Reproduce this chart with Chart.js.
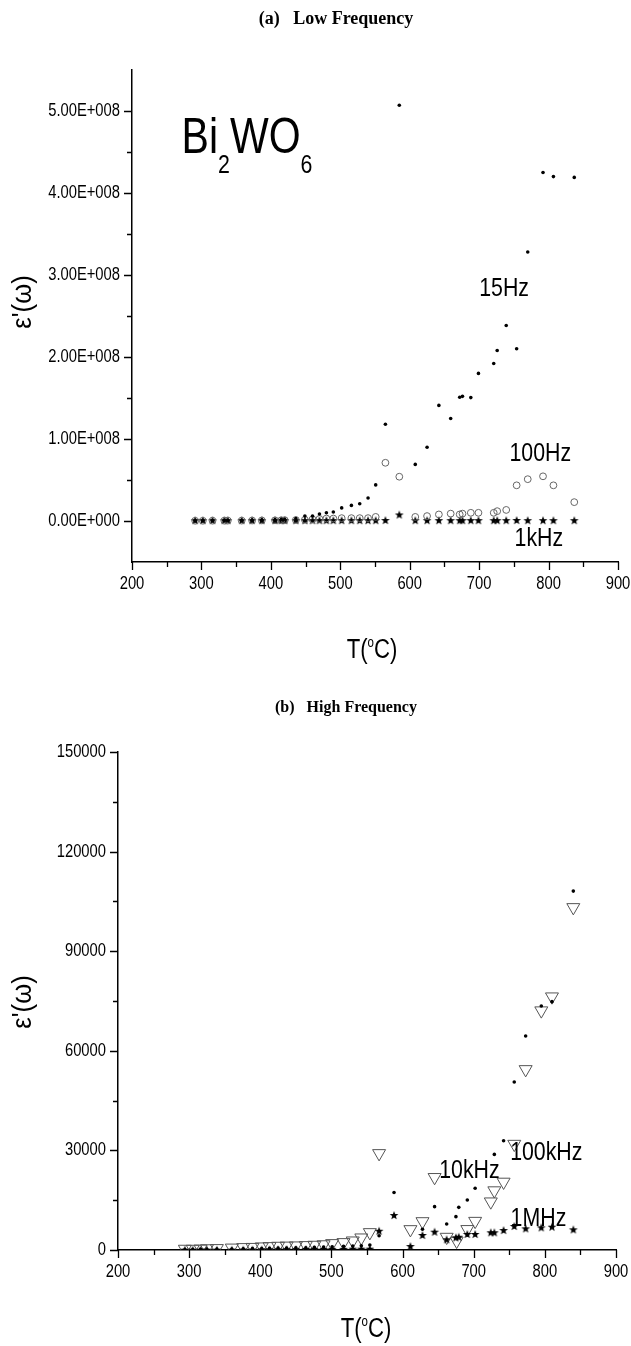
<!DOCTYPE html>
<html>
<head>
<meta charset="utf-8">
<script src="https://cdn.jsdelivr.net/npm/chart.js@4.4.0/dist/chart.umd.min.js"></script>
<style>
  body { margin: 0; background: #fff; }
  canvas { position: absolute; left: 0; }
  #low-chart { top: 0; }
  #high-chart { top: 690px; }
</style>
</head>
<body>
<canvas id="low-chart" width="631" height="690"></canvas>
<canvas id="high-chart" width="631" height="656"></canvas>
<script>
// (a) low frequency: temperature (°C) and real permittivity
const lowTemps = [291, 302, 316, 333, 338, 358, 373, 387, 406, 415, 420, 436, 449, 460, 470, 480, 490, 502, 516, 528,
                  540, 551, 565, 585, 608, 625, 642, 659, 672, 676, 688, 699, 721, 726, 739, 754, 770, 792, 807, 837];
const eps15Hz = [0.5e6, 0.6e6, 0.7e6, 0.8e6, 0.8e6, 1.0e6, 1.2e6, 1.4e6, 1.8e6, 2.0e6, 2.2e6, 3.0e6, 6.0e6, 6.0e6, 8.5e6, 1.0e7, 1.1e7, 1.6e7, 1.9e7, 2.1e7,
                 2.8e7, 4.4e7, 1.18e8, 5.07e8, 6.9e7, 9.0e7, 1.41e8, 1.25e8, 1.51e8, 1.52e8, 1.505e8, 1.80e8, 1.92e8, 2.08e8, 2.385e8, 2.10e8, 3.28e8, 4.25e8, 4.20e8, 4.19e8];
const eps100Hz = [0.3e6, 0.3e6, 0.4e6, 0.4e6, 0.5e6, 0.5e6, 0.6e6, 0.7e6, 0.8e6, 0.9e6, 1.0e6, 1.2e6, 1.5e6, 2.0e6, 2.5e6, 3.0e6, 3.0e6, 3.5e6, 3.5e6, 3.5e6,
                  3.5e6, 5.0e6, 7.1e7, 5.4e7, 5.0e6, 6.0e6, 8.0e6, 9.0e6, 8.0e6, 9.0e6, 1.0e7, 1.0e7, 1.0e7, 1.2e7, 1.35e7, 4.35e7, 5.1e7, 5.45e7, 4.35e7, 2.3e7];
const eps1kHz = [1.0e6, 1.0e6, 1.0e6, 1.0e6, 1.0e6, 1.0e6, 1.0e6, 1.0e6, 1.0e6, 1.0e6, 1.0e6, 1.0e6, 1.0e6, 1.0e6, 1.0e6, 1.0e6, 1.0e6, 1.0e6, 1.0e6, 1.0e6,
                 1.0e6, 1.0e6, 1.2e6, 8.0e6, 1.0e6, 1.0e6, 1.0e6, 1.0e6, 1.0e6, 1.0e6, 1.0e6, 1.0e6, 1.0e6, 1.0e6, 1.0e6, 1.2e6, 1.0e6, 1.0e6, 1.0e6, 1.0e6];

// (b) high frequency
const temps10kHz = [294, 305, 316, 325, 339, 360, 376, 389, 402, 413, 425, 437, 450, 464, 476, 489, 501, 517, 530, 542, 554,
                    567, 588, 628, 645, 662, 675, 679, 691, 702, 729, 742, 757, 773, 795, 810, 840];
const eps10kHz = [150, 150, 200, 200, 250, 300, 350, 400, 450, 500, 550, 600, 650, 700, 800, 900, 1000, 1100, 1200, 1300, 1500,
                  4300, 17300, 6230, 13050, 7830, 10040, 12850, 15060, 18580, 28800, 32900, 50600, 64460, 73500, 74800, 108100];
const temps100kHz = [294, 305, 316, 325, 339, 360, 376, 389, 402, 413, 425, 437, 450, 464, 476, 489, 501, 517, 530, 542, 554,
                     567, 611, 628, 645, 662, 676, 691, 702, 724, 729, 742, 757, 773, 795, 810, 840];
const eps100kHz = [300, 300, 350, 450, 500, 650, 800, 850, 1000, 1100, 1200, 1250, 1300, 1400, 1500, 1650, 2000, 2300, 2800, 3700, 5300,
                   29100, 6200, 8600, 21900, 3900, 2700, 6230, 8700, 14550, 17900, 20500, 31900, 54400, 72100, 76300, 103200];
const temps1MHz = [294, 305, 316, 325, 339, 360, 376, 389, 402, 413, 425, 437, 450, 464, 476, 489, 501, 517, 530, 542, 554,
                   567, 588, 611, 628, 645, 662, 675, 679, 691, 702, 724, 729, 742, 757, 773, 795, 810, 840];
const eps1MHz = [100, 100, 100, 100, 100, 100, 150, 150, 200, 200, 200, 250, 250, 300, 300, 300, 350, 350, 400, 400, 400,
                 5800, 10540, 1200, 4520, 5520, 3220, 3820, 4000, 4820, 4820, 5330, 5330, 6020, 7230, 6530, 6830, 7030, 6230];

// axis ticks
const tempTicks = [200, 300, 400, 500, 600, 700, 800, 900];
const lowEpsTicks = [0, 1e8, 2e8, 3e8, 4e8, 5e8];
const highEpsTicks = [0, 30000, 60000, 90000, 120000, 150000];

const SANS = '"Liberation Sans", Arial, sans-serif';
const SERIF = '"Liberation Serif", "Times New Roman", serif';
const NARROW = 0.82; // horizontal squeeze for the condensed sans lettering

function sciLabel(v) {
  const [m, e] = v.toExponential(2).split('e');
  const n = parseInt(e, 10);
  return m + 'E' + (n < 0 ? '-' : '+') + String(Math.abs(n)).padStart(3, '0');
}

function points(xs, ys) {
  return xs.map((x, i) => ({ x: x, y: ys[i] }));
}

// filled five-point star used as a marker
function makeStar(r) {
  const c = document.createElement('canvas');
  const s = Math.ceil(r * 2 + 2);
  c.width = c.height = s;
  const g = c.getContext('2d');
  g.translate(s / 2, s / 2 + 0.5);
  g.beginPath();
  for (let i = 0; i < 10; i++) {
    const rad = i % 2 ? r * 0.42 : r;
    const a = -Math.PI / 2 + i * Math.PI / 5;
    g.lineTo(Math.cos(a) * rad, Math.sin(a) * rad);
  }
  g.closePath();
  g.fillStyle = '#000';
  g.fill();
  return c;
}
const starMark = makeStar(4.6);

function narrowText(ctx, text, x, y, align) {
  ctx.save();
  ctx.translate(x, y);
  ctx.scale(NARROW, 1);
  ctx.textAlign = align;
  ctx.fillText(text, 0, 0);
  ctx.restore();
}

// outward major + minor tick marks and the tick labels on both axes
const axisTicks = {
  id: 'axisTicks',
  afterDraw(chart) {
    const ctx = chart.ctx;
    const xs = chart.scales.x, ys = chart.scales.y;
    const fmt = chart.options.scales.y.ticks.callback;
    ctx.save();
    ctx.strokeStyle = '#000';
    ctx.lineWidth = 1.3;
    ctx.beginPath();
    const xt = xs.ticks.map(t => t.value);
    xt.forEach((v, i) => {
      const px = Math.round(xs.getPixelForValue(v)) + 0.5;
      ctx.moveTo(px, ys.bottom); ctx.lineTo(px, ys.bottom + 8);
      if (i < xt.length - 1) {
        const mx = Math.round(xs.getPixelForValue((v + xt[i + 1]) / 2)) + 0.5;
        ctx.moveTo(mx, ys.bottom); ctx.lineTo(mx, ys.bottom + 5);
      }
    });
    const yt = ys.ticks.map(t => t.value);
    yt.forEach((v, i) => {
      const py = Math.round(ys.getPixelForValue(v)) + 0.5;
      ctx.moveTo(xs.left, py); ctx.lineTo(xs.left - 8, py);
      if (i < yt.length - 1) {
        const my = Math.round(ys.getPixelForValue((v + yt[i + 1]) / 2)) + 0.5;
        ctx.moveTo(xs.left, my); ctx.lineTo(xs.left - 5, my);
      }
    });
    ctx.stroke();

    ctx.fillStyle = '#000';
    ctx.font = '18px ' + SANS;
    ctx.textBaseline = 'middle';
    xt.forEach(v => narrowText(ctx, String(v), xs.getPixelForValue(v), ys.bottom + 22, 'center'));
    yt.forEach(v => narrowText(ctx, fmt(v), xs.left - 12, ys.getPixelForValue(v), 'right'));
    ctx.restore();
  }
};

// text with sub/superscripts: runs = [[text, 'sub'|'sup'|null], ...]
function drawRuns(ctx, runs, size, family, weight) {
  const fontOf = k => (weight || '') + ' ' + (k ? Math.round(size * 0.52) : size) + 'px ' + family;
  const widths = runs.map(([t, k]) => { ctx.font = fontOf(k); return ctx.measureText(t).width; });
  let cx = -widths.reduce((a, b) => a + b, 0) / 2;
  runs.forEach(([t, k], i) => {
    ctx.font = fontOf(k);
    const dy = k === 'sub' ? size * 0.4 : k === 'sup' ? -size * 0.42 : 0;
    ctx.fillText(t, cx, dy);
    cx += widths[i];
  });
}

function textPlugin(items) {
  return {
    id: 'figureText',
    afterDraw(chart) {
      const ctx = chart.ctx;
      ctx.save();
      ctx.fillStyle = '#000';
      ctx.textAlign = 'left';
      ctx.textBaseline = 'alphabetic';
      items.forEach(it => {
        let x = it.x, y = it.y;
        if (it.at) {
          // centre of the label sits on the given data point
          x = chart.scales.x.getPixelForValue(it.at[0]);
          y = chart.scales.y.getPixelForValue(it.at[1]) + it.size * 0.36;
        }
        ctx.save();
        ctx.translate(x, y);
        if (it.rotate) ctx.rotate(it.rotate);
        ctx.scale(it.squeeze || 1, 1);
        drawRuns(ctx, it.runs, it.size, it.family || SANS, it.weight);
        ctx.restore();
      });
      ctx.restore();
    }
  };
}

function baseOptions(opt) {
  return {
    responsive: false,
    animation: false,
    layout: { padding: { top: opt.top, right: opt.right, left: 0, bottom: 0 } },
    plugins: { legend: { display: false }, tooltip: { enabled: false } },
    scales: {
      x: {
        type: 'linear', min: 200, max: 900,
        grid: { display: false, drawTicks: false },
        border: { color: '#000', width: 1.5 },
        ticks: { display: false },
        afterBuildTicks: s => { s.ticks = tempTicks.map(v => ({ value: v })); },
        afterFit: s => { s.height = opt.xHeight; }
      },
      y: {
        type: 'linear', min: opt.yMin, max: opt.yMax,
        grid: { display: false, drawTicks: false },
        border: { color: '#000', width: 1.5 },
        ticks: { display: false, callback: opt.fmt },
        afterBuildTicks: s => { s.ticks = opt.yTicks.map(v => ({ value: v })); },
        afterFit: s => { s.width = opt.yWidth; }
      }
    }
  };
}

const dotStyle = { pointStyle: 'circle', pointRadius: 1.8, pointBackgroundColor: '#000', pointBorderWidth: 0 };
const ringStyle = { pointStyle: 'circle', pointRadius: 3.4, pointBackgroundColor: 'rgba(0,0,0,0)', pointBorderColor: '#666', pointBorderWidth: 1 };
const starStyle = { pointStyle: starMark };
const triStyle = { pointStyle: 'triangle', pointRotation: 180, pointRadius: 7.5, pointBackgroundColor: 'rgba(0,0,0,0)', pointBorderColor: '#555', pointBorderWidth: 1 };

new Chart(document.getElementById('low-chart'), {
  type: 'scatter',
  data: {
    datasets: [
      Object.assign({ label: '15Hz', data: points(lowTemps, eps15Hz) }, dotStyle),
      Object.assign({ label: '100Hz', data: points(lowTemps, eps100Hz) }, ringStyle),
      Object.assign({ label: '1kHz', data: points(lowTemps, eps1kHz) }, starStyle)
    ]
  },
  options: baseOptions({ top: 70, right: 13, xHeight: 128, yWidth: 132, yMin: -5e7, yMax: 5.5e8, yTicks: lowEpsTicks, fmt: sciLabel }),
  plugins: [axisTicks, textPlugin([
    { x: 336, y: 24, size: 18, family: SERIF, weight: 'bold', runs: [['(a)   Low Frequency']] },
    { x: 247, y: 153, size: 50, squeeze: NARROW, runs: [['Bi'], ['2', 'sub'], ['WO'], ['6', 'sub']] },
    { at: [736, 2.86e8], size: 26, squeeze: NARROW, runs: [['15Hz']] },
    { at: [788, 0.84e8], size: 26, squeeze: NARROW, runs: [['100Hz']] },
    { at: [786, -0.195e8], size: 26, squeeze: NARROW, runs: [['1kHz']] },
    { x: 31, y: 302, size: 27, squeeze: 0.95, rotate: -Math.PI / 2, runs: [["ε'(ω)"]] },
    { x: 372, y: 658, size: 27, squeeze: NARROW, runs: [['T('], ['o', 'sup'], ['C)']] }
  ])]
});

new Chart(document.getElementById('high-chart'), {
  type: 'scatter',
  data: {
    datasets: [
      Object.assign({ label: '10kHz', data: points(temps10kHz, eps10kHz), clip: 0 }, dotStyle),
      Object.assign({ label: '1MHz', data: points(temps1MHz, eps1MHz), clip: 0 }, starStyle),
      Object.assign({ label: '100kHz', data: points(temps100kHz, eps100kHz), clip: 0 }, triStyle)
    ]
  },
  options: baseOptions({ top: 62, right: 15, xHeight: 96, yWidth: 118, yMin: 0, yMax: 150000, yTicks: highEpsTicks, fmt: v => String(v) }),
  plugins: [axisTicks, textPlugin([
    { x: 346, y: 22, size: 16, family: SERIF, weight: 'bold', runs: [['(b)   High Frequency']] },
    { at: [694, 24400], size: 26, squeeze: NARROW, runs: [['10kHz']] },
    { at: [802, 29800], size: 26, squeeze: NARROW, runs: [['100kHz']] },
    { at: [791, 9940], size: 26, squeeze: NARROW, runs: [['1MHz']] },
    { x: 31, y: 312, size: 27, squeeze: 0.95, rotate: -Math.PI / 2, runs: [["ε'(ω)"]] },
    { x: 366, y: 647, size: 27, squeeze: NARROW, runs: [['T('], ['o', 'sup'], ['C)']] }
  ])]
});
</script>
</body>
</html>
